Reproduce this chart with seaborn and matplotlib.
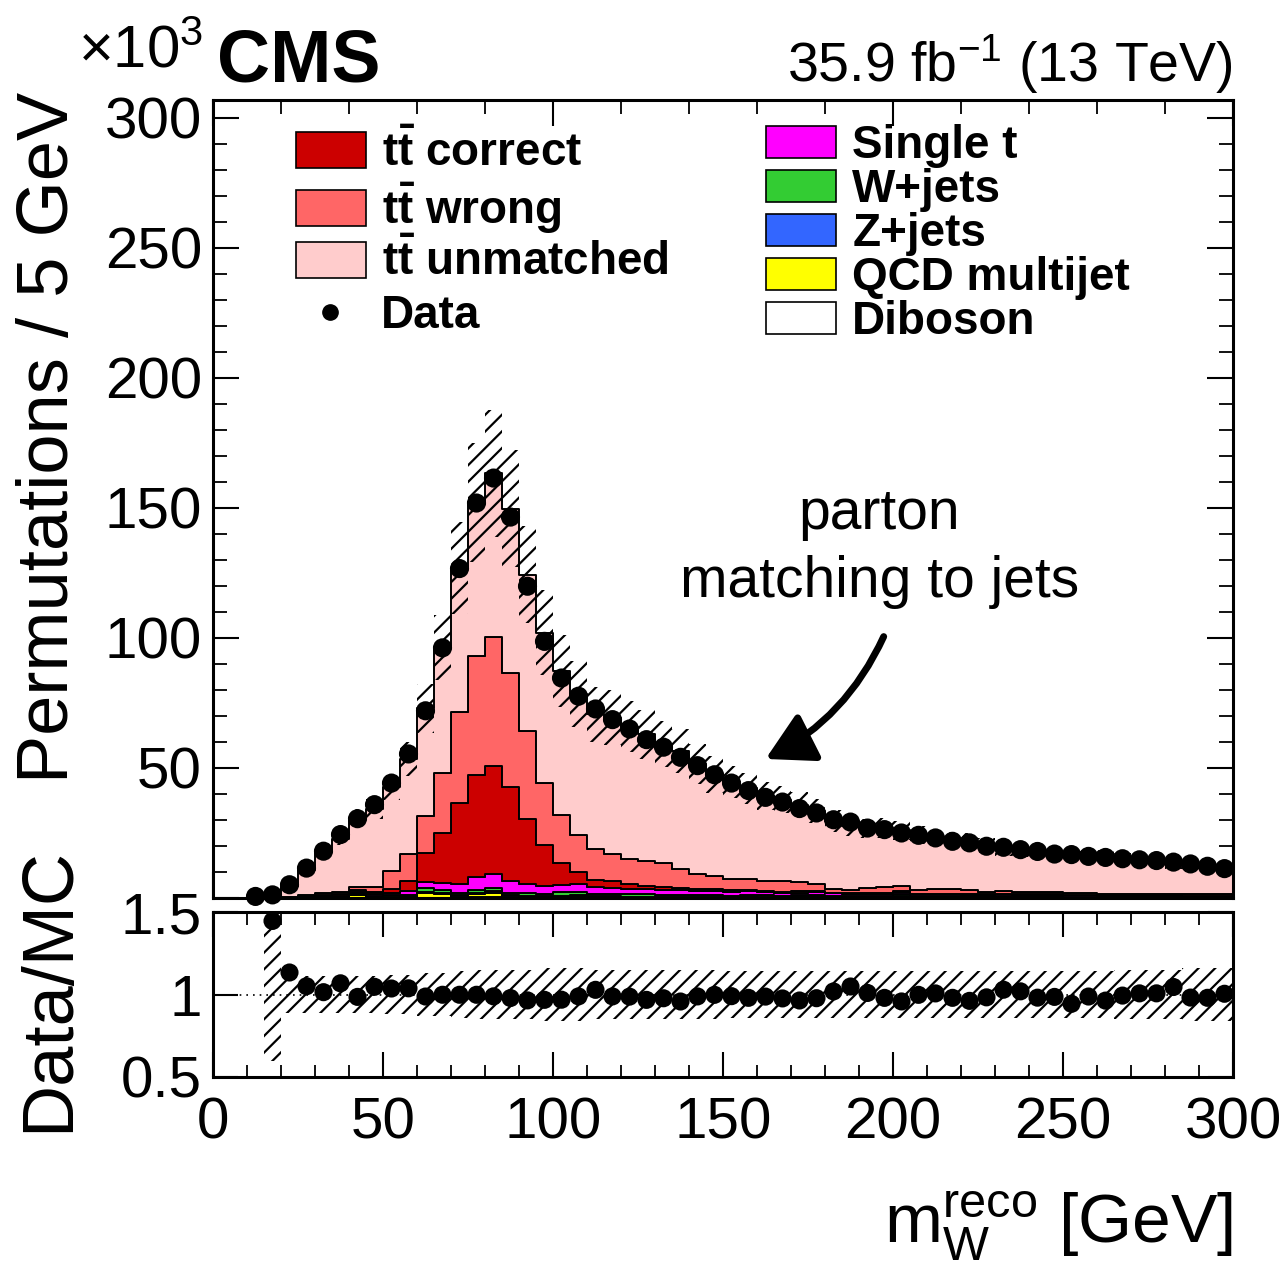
import numpy as np
import pandas as pd
import matplotlib
matplotlib.use("Agg")
import matplotlib.pyplot as plt
from matplotlib.ticker import MultipleLocator, FixedLocator
from matplotlib.patches import Patch
from matplotlib.lines import Line2D
import seaborn as sns

sns.set_style("ticks")
plt.rcParams['font.family'] = ['Liberation Sans', 'DejaVu Sans']
plt.rcParams['mathtext.fontset'] = 'custom'
plt.rcParams['mathtext.rm'] = 'Liberation Sans'
plt.rcParams['mathtext.it'] = 'Liberation Sans:italic'
plt.rcParams['mathtext.bf'] = 'Liberation Sans:bold'
plt.rcParams['hatch.linewidth'] = 1.6
for k in ['text.color', 'axes.edgecolor', 'xtick.color', 'ytick.color', 'axes.labelcolor']:
    plt.rcParams[k] = 'black'

# ---------------- data (values in units of 10^3, 5 GeV bins from 0 to 300) ----------------
bin_edges = list(range(0, 305, 5))

data = [0, 0, 0.6, 1.2, 5.1, 11.5, 18.0, 24.4, 30.5, 35.9,
        44.2, 55.4, 72.0, 96.2, 126.7, 151.9, 161.5, 146.5, 119.9, 98.7,
        84.6, 77.6, 72.7, 68.6, 65.0, 60.9, 58.0, 54.1, 50.9, 47.4,
        44.2, 41.3, 38.7, 36.9, 34.4, 32.7, 30.1, 29.2, 26.9, 26.3,
        25.0, 24.1, 23.1, 21.8, 21.2, 19.9, 19.5, 18.6, 17.9, 16.9,
        16.7, 16.0, 15.6, 15.1, 14.7, 14.4, 13.8, 13.1, 12.2, 11.3]

tt_unmatched = [0, 0, 0, 0.83, 4.0, 9.7, 15.9, 20.4, 26.8, 30.2,
                32.2, 36.6, 41.2, 48.1, 55.5, 58.9, 62.8, 63.3, 60.3, 57.9,
                55.6, 54.2, 51.9, 52.5, 50.7, 48.7, 45.8, 45.3, 42.1, 39.1,
                37.3, 34.8, 32.7, 31.3, 29.6, 27.9, 26.1, 24.6, 22.8, 22.8,
                21.5, 21.1, 19.6, 18.7, 19.1, 17.8, 16.3, 15.8, 16.0, 15.0,
                15.9, 14.4, 14.6, 13.6, 13.1, 12.8, 11.7, 12.0, 11.1, 9.9]

tt_wrong = [0, 0, 0, 0, 0.15, 0.4, 0.75, 1.1, 1.2, 1.8,
            6.9, 10.2, 14.5, 23.3, 35.0, 45.9, 49.7, 43.6, 33.7, 23.6,
            18.1, 14.3, 11.7, 10.4, 9.8, 9.5, 9.3, 7.4, 5.9, 5.1,
            4.4, 4.3, 3.8, 4.2, 3.6, 2.9, 1.4, 1.3, 2.0, 2.2,
            2.0, 1.5, 1.8, 2.0, 1.5, 1.0, 1.0, 1.0, 0.9, 0.8,
            0.7, 0.7, 0.6, 0.6, 0.5, 0.5, 0.5, 0.4, 0.4, 0.4]

tt_correct = [0, 0, 0, 0, 0.1, 0.2, 0.3, 0.4, 0.5, 0.8,
              1.5, 3.9, 11.0, 19.2, 31.1, 39.1, 41.6, 36.4, 25.1, 16.0,
              8.7, 4.7, 3.0, 2.6, 1.8, 1.4, 1.1, 0.9, 0.8, 0.7,
              0.6, 0.5, 0.5, 0.4, 0.4, 0.35, 0.3, 0.3, 0.3, 0.3,
              0.25, 0.2, 0.2, 0.2, 0.2, 0.2, 0.2, 0.2, 0.2, 0.2,
              0.1, 0.1, 0.1, 0.1, 0.1, 0.1, 0.1, 0.1, 0.1, 0.1]

single_t = [0, 0, 0, 0, 0.1, 0.2, 0.3, 0.4, 0.5, 0.7,
            1.0, 1.5, 2.5, 2.8, 3.5, 5.0, 5.5, 4.5, 3.5, 3.0,
            2.8, 3.0, 2.6, 2.4, 2.2, 2.0, 1.9, 1.7, 1.6, 1.5,
            1.4, 1.3, 1.2, 1.1, 1.0, 1.0, 0.9, 0.9, 0.8, 0.8,
            0.8, 0.7, 0.7, 0.7, 0.6, 0.6, 0.6, 0.6, 0.5, 0.5,
            0.5, 0.5, 0.4, 0.4, 0.4, 0.4, 0.4, 0.35, 0.35, 0.35]

w_jets = [0, 0, 0, 0, 0.1, 0.3, 0.3, 0.3, 0.4, 0.4,
          0.5, 0.6, 1.3, 0.9, 0.8, 1.3, 1.2, 0.9, 1.0, 0.8,
          1.5, 1.0, 0.9, 0.9, 0.8, 0.8, 0.7, 0.7, 0.6, 0.6,
          0.5, 0.5, 0.6, 0.4, 0.4, 0.5, 0.5, 0.4, 0.4, 0.4,
          0.6, 0.3, 0.3, 0.3, 0.3, 0.3, 0.3, 0.3, 0.3, 0.3,
          0.2, 0.2, 0.2, 0.2, 0.2, 0.2, 0.2, 0.2, 0.2, 0.2]

z_jets = [0, 0, 0, 0, 0.05, 0.1, 0.15, 0.2, 0.25, 0.3,
          0.35, 0.4, 0.45, 0.5, 0.5, 0.55, 0.55, 0.5, 0.5, 0.45,
          0.45, 0.4, 0.4, 0.4, 0.35, 0.35, 0.35, 0.3, 0.3, 0.3,
          0.3, 0.3, 0.25, 0.25, 0.25, 0.25, 0.2, 0.2, 0.2, 0.2,
          0.2, 0.2, 0.2, 0.2, 0.2, 0.2, 0.2, 0.2, 0.2, 0.2,
          0.15, 0.15, 0.15, 0.15, 0.15, 0.15, 0.15, 0.15, 0.15, 0.15]

qcd = [0, 0, 0, 0, 0, 0, 0, 0, 1.2, 0,
       0.1, 0.1, 1.8, 1.4, 0.3, 1.2, 1.8, 0.3, 0.1, 0.1,
       0.1, 0.8, 0.1, 0.1, 0.1, 0.1, 0.1, 0.1, 0.1, 0.1,
       0.1, 0.4, 0.1, 0.1, 0.4, 0.5, 0.1, 0.1, 0.1, 0.1,
       0.7, 0.1, 0.1, 0.1, 0.1, 0.1, 0.3, 0.1, 0.1, 0.1,
       0.1, 0.1, 0.1, 0.1, 0.1, 0.1, 0.1, 0.1, 0.1, 0.1]

diboson = [0, 0, 0, 0, 0, 0.05, 0.05, 0.05, 0.1, 0.1,
           0.1, 0.1, 0.15, 0.15, 0.2, 0.2, 0.2, 0.2, 0.15, 0.15,
           0.1, 0.1, 0.1, 0.1, 0.1, 0.1, 0.1, 0.1, 0.1, 0.1,
           0.05, 0.05, 0.05, 0.05, 0.05, 0.05, 0.05, 0.05, 0.05, 0.05,
           0.05, 0.05, 0.05, 0.05, 0.05, 0.05, 0.05, 0.05, 0.05, 0.05,
           0.05, 0.05, 0.05, 0.05, 0.05, 0.05, 0.05, 0.05, 0.05, 0.05]

# relative systematic uncertainty of the prediction
mc_rel_unc = [0, 0, 0, 0.40, 0.11, 0.11, 0.11, 0.11, 0.11, 0.11,
              0.12, 0.12, 0.13, 0.13, 0.14, 0.15, 0.15, 0.15, 0.15, 0.16,
              0.16, 0.16, 0.15, 0.15, 0.15, 0.15, 0.15, 0.15, 0.15, 0.15,
              0.14, 0.14, 0.14, 0.14, 0.14, 0.14, 0.14, 0.14, 0.14, 0.14,
              0.14, 0.14, 0.14, 0.14, 0.14, 0.14, 0.14, 0.14, 0.14, 0.14,
              0.14, 0.14, 0.14, 0.15, 0.15, 0.15, 0.15, 0.16, 0.16, 0.16]

process_names = ["tt_unmatched", "tt_wrong", "tt_correct", "Single t",
                 "W+jets", "Z+jets", "QCD multijet", "Diboson"]
process_values = [tt_unmatched, tt_wrong, tt_correct, single_t,
                  w_jets, z_jets, qcd, diboson]
process_colors = ["#FFCCCC", "#FF6666", "#CC0000", "#FF00FF",
                  "#33CC33", "#3366FF", "#FFFF00", "#FFFFFF"]

# ---------------- derived tables ----------------
edges = np.array(bin_edges, dtype=float)
centers = 0.5 * (edges[:-1] + edges[1:])
rows = []
for name, vals in zip(process_names, process_values):
    for c, v in zip(centers, vals):
        rows.append((c, v, name))
df = pd.DataFrame(rows, columns=["x", "w", "process"])

mc_total = np.sum(np.array(process_values, dtype=float), axis=0)
data_arr = np.array(data, dtype=float)
unc = np.array(mc_rel_unc)
has_mc = mc_total > 0
ratio = np.where(has_mc, data_arr / np.where(has_mc, mc_total, 1), np.nan)
dfd = pd.DataFrame({"x": centers, "y": data_arr})
dfd = dfd[dfd.y > 0]
dfr = pd.DataFrame({"x": centers, "r": ratio}).dropna()

# ---------------- figure ----------------
W, H = 1288, 1263
fig = plt.figure(figsize=(W / 100, H / 100), dpi=100)
ax = fig.add_axes([213 / W, 1 - 898 / H, 1020 / W, 798 / H])
axr = fig.add_axes([213 / W, 1 - 1077 / H, 1020 / W, 165 / H])

sns.histplot(data=df, x="x", weights="w", hue="process", hue_order=process_names,
             palette=dict(zip(process_names, process_colors)), multiple="stack",
             bins=bin_edges, element="step", fill=True, alpha=1,
             edgecolor="black", linewidth=1.4, legend=False, ax=ax, zorder=2)

# uncertainty band
lo = mc_total * (1 - unc)
hi = mc_total * (1 + unc)
ax.stairs(hi, edges, baseline=lo, fill=True, facecolor="none",
          edgecolor="black", hatch="//", linewidth=0, zorder=3)

sns.scatterplot(data=dfd, x="x", y="y", color="black", s=190, edgecolor="none",
                ax=ax, zorder=5, clip_on=False, legend=False)

ax.set_xlim(0, 300)
ax.set_ylim(0, 306.9)
ax.set_xlabel("")
ax.set_ylabel("")
ax.xaxis.set_major_locator(MultipleLocator(100))
ax.xaxis.set_minor_locator(MultipleLocator(20))
ax.yaxis.set_major_locator(MultipleLocator(50))
ax.yaxis.set_minor_locator(MultipleLocator(10))
ax.yaxis.set_major_formatter(plt.FuncFormatter(lambda v, p: f"{v:g}" if v > 0 else ""))
ax.tick_params(which="both", direction="in", top=True, right=True, labelbottom=False,
               labelsize=42, pad=8)
ax.tick_params(which="major", length=19, width=1.5)
ax.tick_params(which="minor", length=10, width=1.3)
for sp in ax.spines.values():
    sp.set_linewidth(2.2)
    sp.set_visible(True)

# ratio panel
axr.stairs(np.where(has_mc, 1 + unc, 1), edges,
           baseline=np.where(has_mc, 1 - unc, 1), fill=True, facecolor="none",
           edgecolor="black", hatch="//", linewidth=0, zorder=2)
axr.axhline(1, color="black", lw=1.2, ls=(0, (1, 3)), zorder=1)
sns.scatterplot(data=dfr, x="x", y="r", color="black", s=170, edgecolor="none",
                ax=axr, zorder=5, legend=False)
axr.set_xlim(0, 300)
axr.set_ylim(0.5, 1.5)
axr.set_xlabel("")
axr.set_ylabel("")
axr.xaxis.set_major_locator(MultipleLocator(50))
axr.xaxis.set_minor_locator(MultipleLocator(10))
axr.yaxis.set_major_locator(FixedLocator([0.5, 1.0, 1.5]))
axr.yaxis.set_major_formatter(plt.FuncFormatter(lambda v, p: f"{v:g}"))
axr.tick_params(which="both", direction="in", top=True, right=True, labelsize=42)
axr.tick_params(axis="x", which="major", length=18, width=1.5, pad=14)
axr.tick_params(axis="x", which="minor", length=9, width=1.3)
axr.tick_params(axis="y", which="major", length=18, width=1.5, pad=8)
for sp in axr.spines.values():
    sp.set_linewidth(2.2)
    sp.set_visible(True)

# legends
tt = r"$\mathbf{t\bar{t}}$"
leg_kw = dict(frameon=False, prop={"weight": "bold", "size": 33}, handlelength=1.53,
              handletextpad=0.35, borderaxespad=0, borderpad=0)
left_handles = [Patch(facecolor="#CC0000", edgecolor="black", lw=1.2),
                Patch(facecolor="#FF6666", edgecolor="black", lw=1.2),
                Patch(facecolor="#FFCCCC", edgecolor="black", lw=1.2)]
left_labels = [tt + " correct", tt + " wrong", tt + " unmatched"]
leg1 = ax.legend(left_handles, left_labels, loc="upper left",
                 bbox_to_anchor=(83 / 1020, 1 - 31 / 798),
                 handleheight=0.83, labelspacing=0.1, **leg_kw)
ax.add_artist(leg1)
leg2 = ax.legend([Line2D([], [], marker="o", color="black", ls="none", markersize=11)],
                 ["Data"], loc="center left",
                 bbox_to_anchor=(82 / 1020, (898 - 316) / 798), **leg_kw)
ax.add_artist(leg2)
right_handles = [Patch(facecolor=c, edgecolor="black", lw=1.2)
                 for c in ["#FF00FF", "#33CC33", "#3366FF", "#FFFF00", "#FFFFFF"]]
right_labels = ["Single t", "W+jets", "Z+jets", "QCD multijet", "Diboson"]
ax.legend(right_handles, right_labels, loc="upper left",
          bbox_to_anchor=(553 / 1020, 1 - 24 / 798),
          handleheight=0.7, labelspacing=0.0, **leg_kw)

# annotation
ax.text(196, 147.5, "parton", ha="center", va="center", fontsize=41)
ax.text(196, 121.5, "matching to jets", ha="center", va="center", fontsize=41)
ax.annotate("", xy=(161.8, 53.0), xytext=(197.6, 101.5),
            arrowprops=dict(arrowstyle="-|>,head_length=0.9,head_width=0.5",
                            connectionstyle="arc3,rad=-0.18", lw=5,
                            color="black", mutation_scale=32))

# figure texts
fig.text(50 / W, 1 - 437 / H, "Permutations / 5 GeV", rotation=90,
         ha="center", va="center", fontsize=52)
fig.text(50 / W, 1 - 990 / H, "Data/MC", rotation=90,
         ha="center", va="center", fontsize=52)
fig.text(1233 / W, 1 - 1243 / H, r"$\mathrm{m}_{\mathrm{W}}^{\mathrm{reco}}$ [GeV]",
         ha="right", va="baseline", fontsize=50)
fig.text(217 / W, 1 - 82 / H, "CMS", ha="left", va="baseline",
         fontsize=53, fontweight="bold")
fig.text(78 / W, 1 - 68 / H, r"$\times$10$^{3}$", ha="left", va="baseline",
         fontsize=43)
fig.text(1233 / W, 1 - 82 / H, r"35.9 fb$^{-1}$ (13 TeV)", ha="right",
         va="baseline", fontsize=40)

fig.savefig("out.png", dpi=100)
